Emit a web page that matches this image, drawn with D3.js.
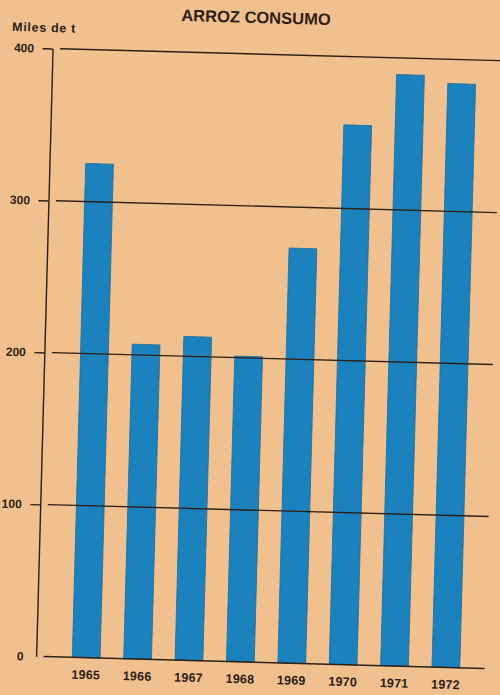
<!DOCTYPE html>
<html>
<head>
<meta charset="utf-8">
<script src="https://cdn.jsdelivr.net/npm/d3@7"></script>
<style>
  html, body { margin: 0; padding: 0; background: #f1c08f; }
  svg { display: block; }
</style>
</head>
<body>
<svg id="chart" width="500" height="695"></svg>
<script>
// Consumo de arroz, miles de toneladas
const years = ["1965", "1966", "1967", "1968", "1969", "1970", "1971", "1972"];
const consumo = [325, 207, 213, 201, 273, 355, 389, 384];
const yTicks = [0, 100, 200, 300, 400];
const titulo = "ARROZ CONSUMO";
const unidad = "Miles de t";

const W = 500, H = 695;
const ink = "#2f1e14";
const paper = "#f1c08f";
const barFill = "#1c82be";
const barEdge = "#1a6b9c";
const font = "'Liberation Sans', Arial, Helvetica, sans-serif";

const svg = d3.select("#chart");
svg.append("rect").attr("width", W).attr("height", H).attr("fill", paper);

// the printed sheet sits slightly askew
const g = svg.append("g").attr("transform", "rotate(1.55,250,350)");

const y = d3.scaleLinear().domain([0, 400]).range([662, 54]);
const x = d3.scaleBand().domain(years).range([55, 494])
  .paddingInner(0.46).paddingOuter(0.5);

const axisX = 44.5;
const gridX0 = 52, gridX1 = 493;

// bars
const rows = years.map((yr, i) => ({ yr, v: consumo[i] }));
g.append("g").selectAll("rect").data(rows).join("rect")
  .attr("x", d => x(d.yr))
  .attr("width", x.bandwidth())
  .attr("y", d => y(d.v))
  .attr("height", d => y(0) - y(d.v))
  .attr("fill", barFill)
  .attr("stroke", barEdge)
  .attr("stroke-width", 0.8);

// horizontal rules, drawn over the bars
g.append("g").selectAll("line").data(yTicks).join("line")
  .attr("x1", gridX0).attr("x2", gridX1)
  .attr("y1", d => y(d)).attr("y2", d => y(d))
  .attr("stroke", ink)
  .attr("stroke-width", 1.4);

// vertical axis with short ticks on the left
const ya = g.append("g")
  .attr("transform", `translate(${axisX},0)`)
  .call(d3.axisLeft(y).tickValues(yTicks).tickSize(10).tickSizeOuter(0).tickPadding(8.5));
ya.select(".domain").attr("stroke", ink).attr("stroke-width", 1.4);
ya.selectAll(".tick line").attr("stroke", ink).attr("stroke-width", 1.4)
  .filter(d => d === 0).remove();
ya.selectAll(".tick text")
  .attr("fill", ink)
  .style("font", `bold 12px ${font}`);
ya.selectAll(".tick text").filter(d => d === 0).attr("dx", 6);

// year labels
const xa = g.append("g")
  .attr("transform", `translate(0,${y(0)})`)
  .call(d3.axisBottom(x).tickSize(0).tickPadding(12.5));
xa.select(".domain").remove();
xa.selectAll(".tick text")
  .attr("fill", ink)
  .style("font", `bold 12.5px ${font}`)
  .style("letter-spacing", "0.2px");

// title and unit
g.append("text")
  .attr("x", 247).attr("y", 23)
  .attr("text-anchor", "middle")
  .attr("fill", ink)
  .style("font", `bold 16.5px ${font}`)
  .text(titulo);

g.append("text")
  .attr("x", 3.5).attr("y", 37.5)
  .attr("fill", ink)
  .style("font", `bold 12.5px ${font}`)
  .style("letter-spacing", "0.7px")
  .text(unidad);
</script>
</body>
</html>
